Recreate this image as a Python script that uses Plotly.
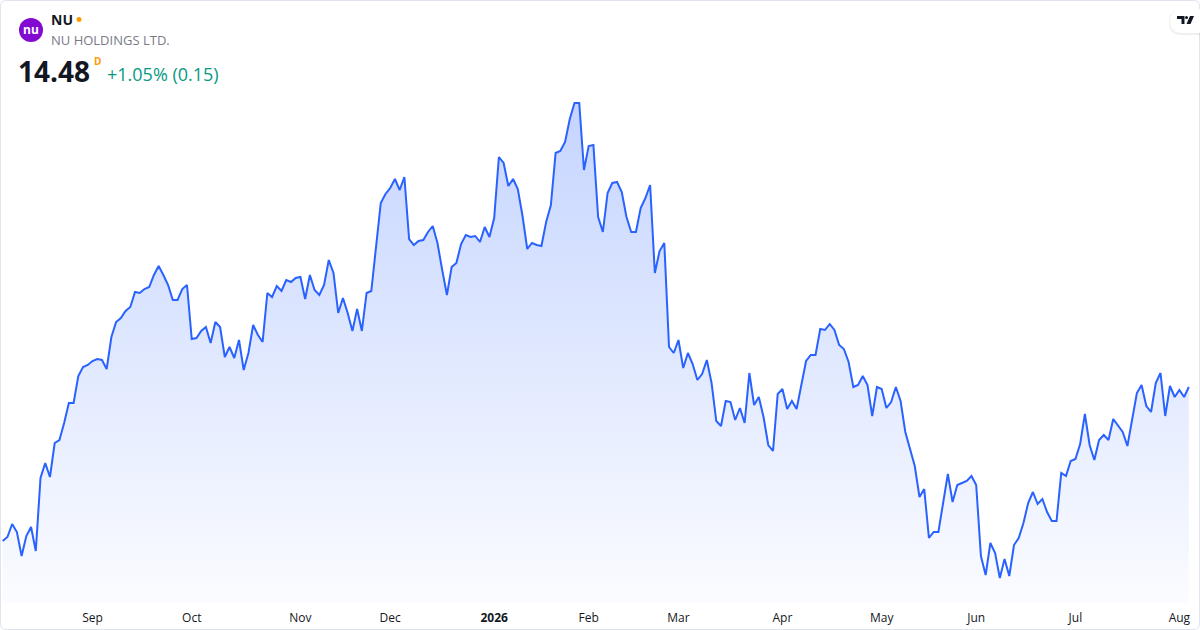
import pandas as pd
import plotly.graph_objects as go

# NU daily closes, Aug 2025 - Aug 2026
holidays = ["2025-09-01", "2025-11-27", "2025-12-25", "2026-01-01", "2026-01-19",
            "2026-02-16", "2026-04-03", "2026-05-25", "2026-06-19", "2026-07-03"]
dates = pd.bdate_range("2025-08-05", "2026-08-05", freq="C", holidays=holidays).strftime("%Y-%m-%d").tolist()

close = [
    12.94, 12.98, 13.11, 13.03, 12.79, 12.99, 13.08, 12.84, 13.57, 13.72,
    13.58, 13.92, 13.95, 14.12, 14.32, 14.32, 14.59, 14.68, 14.70, 14.74,
    14.76, 14.75, 14.66, 14.98, 15.13, 15.17, 15.24, 15.28, 15.43, 15.42,
    15.46, 15.48, 15.60, 15.69, 15.60, 15.50, 15.35, 15.35, 15.46, 15.50,
    14.96, 14.97, 15.04, 15.08, 14.92, 15.13, 15.08, 14.78, 14.88, 14.77,
    14.95, 14.65, 14.82, 15.10, 15.00, 14.93, 15.42, 15.38, 15.49, 15.44,
    15.55, 15.53, 15.57, 15.58, 15.36, 15.60, 15.45, 15.40, 15.50, 15.75,
    15.62, 15.22, 15.37, 15.22, 15.04, 15.26, 15.04, 15.42, 15.44, 15.88,
    16.32, 16.41, 16.47, 16.56, 16.45, 16.58, 15.96, 15.90, 15.94, 15.95,
    16.03, 16.09, 15.92, 15.65, 15.40, 15.68, 15.72, 15.91, 16.00, 15.98,
    15.99, 15.93, 16.08, 15.98, 16.17, 16.78, 16.72, 16.49, 16.56, 16.46,
    16.19, 15.86, 15.92, 15.90, 15.89, 16.13, 16.30, 16.82, 16.84, 16.93,
    17.16, 17.32, 17.32, 16.65, 16.89, 16.90, 16.18, 16.03, 16.42, 16.52,
    16.53, 16.43, 16.18, 16.03, 16.03, 16.27, 16.37, 16.50, 15.62, 15.84,
    15.92, 14.88, 14.82, 14.95, 14.67, 14.82, 14.71, 14.55, 14.61, 14.75,
    14.52, 14.14, 14.09, 14.34, 14.33, 14.15, 14.27, 14.12, 14.62, 14.30,
    14.38, 14.18, 13.90, 13.84, 14.41, 14.46, 14.26, 14.34, 14.26, 14.50,
    14.74, 14.80, 14.80, 15.06, 15.05, 15.11, 15.05, 14.90, 14.86, 14.73,
    14.48, 14.50, 14.59, 14.50, 14.19, 14.48, 14.46, 14.27, 14.33, 14.48,
    14.34, 14.03, 13.85, 13.69, 13.38, 13.46, 12.97, 13.03, 13.03, 13.33,
    13.61, 13.33, 13.50, 13.52, 13.54, 13.59, 13.50, 12.79, 12.60, 12.92,
    12.82, 12.57, 12.76, 12.59, 12.90, 12.97, 13.12, 13.32, 13.43, 13.31,
    13.36, 13.23, 13.14, 13.14, 13.62, 13.59, 13.74, 13.76, 13.91, 14.21,
    13.90, 13.75, 13.95, 14.00, 13.95, 14.16, 14.09, 14.03, 13.89, 14.17,
    14.42, 14.50, 14.29, 14.23, 14.52, 14.62, 14.19, 14.49, 14.38, 14.45,
    14.38, 14.48,
]

tick_dates = ["2025-09-02", "2025-10-01", "2025-11-03", "2025-12-01", "2026-01-02", "2026-02-02",
              "2026-03-02", "2026-04-01", "2026-05-01", "2026-06-01", "2026-07-01", "2026-08-03"]
tick_labels = ["Sep", "Oct", "Nov", "Dec", "<b>2026</b>", "Feb",
               "Mar", "Apr", "May", "Jun", "Jul", "Aug"]

symbol = "NU"
company = "NU HOLDINGS LTD."
last_price = "14.48"
change_text = "+1.05% (0.15)"

W, H = 1200, 630
PLOT_H = 603  # plot area height (top margin 0)
FONT = "Open Sans"
BLUE = "#2962FF"


def px(x, y):
    # pixel position -> paper coords
    return x / W, 1 - y / PLOT_H


def path(points):
    s = ""
    for i, (x, y) in enumerate(points):
        a, b = px(x, y)
        s += ("M" if i == 0 else "L") + f"{a:.5f},{b:.5f} "
    return s + "Z"


def rounded_rect(x0, y0, x1, y1, r):
    a = lambda x, y: "%.5f,%.5f" % px(x, y)
    s = "M" + a(x0 + r, y0) + " L" + a(x1 - r, y0) + " Q" + a(x1, y0) + " " + a(x1, y0 + r)
    s += " L" + a(x1, y1 - r) + " Q" + a(x1, y1) + " " + a(x1 - r, y1)
    s += " L" + a(x0 + r, y1) + " Q" + a(x0, y1) + " " + a(x0, y1 - r)
    s += " L" + a(x0, y0 + r) + " Q" + a(x0, y0) + " " + a(x0 + r, y0) + " Z"
    return s


fig = go.Figure()

fig.add_trace(go.Scatter(
    x=dates, y=close,
    mode="lines",
    line=dict(color=BLUE, width=2),
    fill="tozeroy",
    fillgradient=dict(
        type="vertical",
        start=12.32, stop=17.33,
        colorscale=[[0, "rgba(41,98,255,0.02)"], [1, "rgba(41,98,255,0.27)"]],
    ),
    hoverinfo="skip",
))

step = 4.7257  # px per trading day
x_lo = -2.7 / step
x_hi = (W - 2.7) / step

fig.update_xaxes(
    type="category",
    range=[x_lo, x_hi],
    tickvals=tick_dates, ticktext=tick_labels,
    showgrid=False, zeroline=False, showline=False, ticks="",
    ticklabelstandoff=6,
    tickfont=dict(family=FONT, size=12, color="#131722"),
)
fig.update_yaxes(range=[12.32, 18.35], visible=False, showgrid=False, zeroline=False)

shapes = [
    # outer rounded frame
    dict(type="path", xref="paper", yref="paper", path=rounded_rect(0.5, 0.5, 1199.5, 629.5, 6),
         line=dict(color="#e0e3eb", width=1), fillcolor="rgba(0,0,0,0)", layer="above"),
    # logo circle
    dict(type="circle", xref="paper", yref="paper",
         x0=px(19, 0)[0], x1=px(43, 0)[0], y0=px(0, 42)[1], y1=px(0, 18)[1],
         fillcolor="#820AD1", line=dict(width=0)),
    # market status dot
    dict(type="circle", xref="paper", yref="paper",
         x0=px(76.5, 0)[0], x1=px(81.5, 0)[0], y0=px(0, 22)[1], y1=px(0, 17)[1],
         fillcolor="#FF9800", line=dict(width=0)),
    # TradingView badge (shadow + pill)
    dict(type="path", xref="paper", yref="paper", path=rounded_rect(1169, 9, 1212, 35, 12),
         fillcolor="rgba(0,0,0,0.06)", line=dict(width=0), layer="above"),
    dict(type="path", xref="paper", yref="paper", path=rounded_rect(1170, 9, 1212, 33, 12),
         fillcolor="white", line=dict(width=0), layer="above"),
    # TV glyph
    dict(type="path", xref="paper", yref="paper",
         path=path([(1177, 16), (1184.5, 16), (1184.5, 24), (1181.5, 24), (1181.5, 19), (1177, 19)]),
         fillcolor="#131722", line=dict(width=0), layer="above"),
    dict(type="circle", xref="paper", yref="paper",
         x0=px(1185, 0)[0], x1=px(1188, 0)[0], y0=px(0, 19)[1], y1=px(0, 16)[1],
         fillcolor="#131722", line=dict(width=0), layer="above"),
    dict(type="path", xref="paper", yref="paper",
         path=path([(1190, 16), (1194, 16), (1190.5, 24), (1186.5, 24)]),
         fillcolor="#131722", line=dict(width=0), layer="above"),
]


def label(x, y, text, size, color, anchor="left"):
    return dict(xref="paper", yref="paper", x=px(x, 0)[0], y=px(0, y)[1], text=text,
                showarrow=False, font=dict(family=FONT, size=size, color=color),
                xanchor=anchor, yanchor="middle")


annotations = [
    label(31, 30, "<b>nu</b>", 12, "white", "center"),
    label(49, 20, f"<b>{symbol}</b>", 14, "#131722"),
    label(49, 40, company, 13, "#787b86"),
    label(16, 71, f"<b>{last_price}</b>", 28, "#131722"),
    label(92, 61, "<b>D</b>", 10, "#FF9800"),
    label(105, 74, change_text, 18, "#089981"),
]

fig.update_layout(
    width=W, height=H,
    margin=dict(l=0, r=0, t=0, b=H - PLOT_H),
    paper_bgcolor="white", plot_bgcolor="white",
    showlegend=False,
    shapes=shapes, annotations=annotations,
    font=dict(family=FONT),
)

fig.write_html("out.html", config={"displayModeBar": False})

# drop the default page margin so the figure sits at 0,0
with open("out.html", encoding="utf-8") as f:
    page = f.read()
page = page.replace("<body>", '<body style="margin:0;overflow:hidden">', 1)
with open("out.html", "w", encoding="utf-8") as f:
    f.write(page)
